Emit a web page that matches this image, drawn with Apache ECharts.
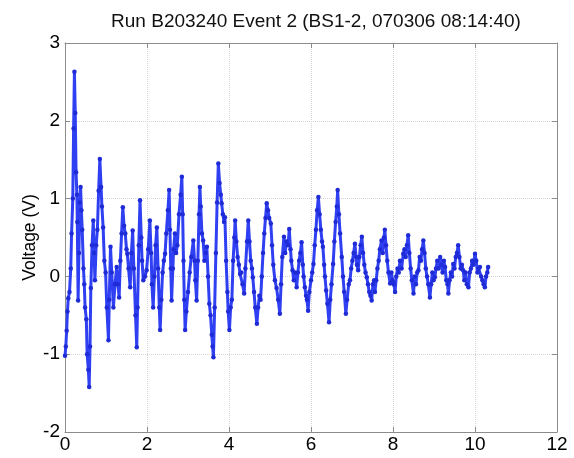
<!DOCTYPE html>
<html>
<head>
<meta charset="utf-8">
<script src="https://cdn.jsdelivr.net/npm/echarts@6/dist/echarts.min.js"></script>
<style>
  html, body { margin: 0; padding: 0; background: #ffffff; }
  #chart { width: 574px; height: 458px; }
</style>
</head>
<body>
<div id="chart"></div>
<script>
// Recorded voltage trace, [time (s), voltage (V)] pairs, one array per second of record
const wave0to1 = [
  [0.00,-1.02],[0.02,-0.90],[0.04,-0.70],[0.06,-0.45],[0.08,-0.28],[0.11,-0.20],[0.14,0.10],[0.16,0.55],
  [0.19,1.00],[0.21,1.90],[0.23,2.63],[0.25,2.10],[0.27,1.34],[0.29,1.05],[0.30,0.70],[0.32,-0.31],
  [0.34,0.30],[0.36,0.95],[0.38,1.15],[0.40,0.85],[0.42,0.60],[0.45,0.10],[0.47,-0.10],[0.49,-0.40],
  [0.52,-0.55],[0.54,-1.00],[0.57,-1.20],[0.59,-1.42],[0.61,-0.90],[0.63,-0.15],[0.66,0.40],[0.69,0.72],
  [0.71,0.30],[0.73,-0.05],[0.76,0.40],[0.79,0.60],[0.82,1.10],[0.85,1.51],[0.88,1.15],[0.90,0.90],
  [0.93,0.63],[0.96,0.20],[0.99,0.05],[1.02,-0.40],[1.06,-0.82]
];
const wave1to2 = [
  [1.08,-0.30],[1.11,0.38],[1.14,0.05],[1.18,-0.40],[1.22,-0.10],[1.26,0.12],[1.29,-0.10],[1.32,-0.27],
  [1.35,0.20],[1.38,0.55],[1.41,0.89],[1.44,0.65],[1.47,0.55],[1.50,0.35],[1.52,0.29],[1.55,0.10],
  [1.59,-0.14],[1.62,0.30],[1.65,0.59],[1.68,0.10],[1.72,-0.50],[1.75,-0.91],[1.77,-0.40],[1.80,0.40],
  [1.83,0.98],[1.86,0.50],[1.88,0.20],[1.91,-0.05],[1.95,0.00],[1.99,0.08],[2.03,0.35],[2.07,0.72]
];
const wave2to3 = [
  [2.10,0.30],[2.12,-0.10],[2.15,-0.40],[2.18,0.00],[2.21,0.40],[2.24,0.63],[2.27,0.10],[2.30,-0.40],
  [2.32,-0.69],[2.35,-0.30],[2.38,0.05],[2.41,0.20],[2.44,0.29],[2.47,0.55],[2.51,0.85],[2.54,1.11],
  [2.56,0.60],[2.58,0.10],[2.60,-0.31],[2.63,0.10],[2.65,0.35],[2.68,0.55],[2.71,0.30],[2.74,0.40],
  [2.78,0.80],[2.82,1.05],[2.85,1.28],[2.87,0.80],[2.89,0.20],[2.91,-0.30],[2.93,-0.69],[2.96,-0.45],
  [3.00,-0.20],[3.04,0.05],[3.08,0.25],[3.13,0.46]
];
const wave3to4 = [
  [3.16,0.20],[3.18,-0.05],[3.21,-0.31],[3.24,0.20],[3.27,0.80],[3.29,1.15],[3.31,0.90],[3.34,0.55],
  [3.37,0.46],[3.40,0.20],[3.43,0.30],[3.46,0.38],[3.49,0.00],[3.52,-0.35],[3.55,-0.50],[3.58,-0.75],
  [3.60,-0.90],[3.62,-1.04],[3.65,-0.40],[3.68,0.30],[3.71,0.95],[3.74,1.45],[3.77,1.20],[3.80,1.05],
  [3.82,0.94],[3.85,0.80],[3.88,0.70],[3.90,0.76],[3.93,0.20],[3.96,-0.20],[3.98,-0.45],[4.01,-0.69]
];
const wave4to5 = [
  [4.04,-0.40],[4.07,-0.30],[4.10,0.20],[4.13,0.50],[4.15,0.72],[4.18,0.45],[4.21,0.25],[4.24,0.15],
  [4.27,0.03],[4.30,0.05],[4.33,-0.10],[4.37,-0.22],[4.40,0.10],[4.44,0.45],[4.47,0.72],[4.50,0.45],
  [4.53,0.20],[4.56,0.10],[4.58,-0.01],[4.61,-0.20],[4.64,-0.40],[4.68,-0.61],[4.71,-0.40],[4.74,-0.25],
  [4.77,-0.30],[4.80,0.00],[4.83,0.30],[4.86,0.55],[4.89,0.75],[4.92,0.94],[4.95,0.85],[4.98,0.75],
  [5.02,0.68]
];
const wave5to6 = [
  [5.05,0.40],[5.08,0.15],[5.12,-0.05],[5.16,-0.15],[5.20,-0.30],[5.24,-0.48],[5.27,-0.10],[5.30,0.25],
  [5.34,0.51],[5.37,0.30],[5.40,0.45],[5.44,0.40],[5.47,0.61],[5.50,0.35],[5.52,0.20],[5.55,0.08],
  [5.58,-0.05],[5.61,0.05],[5.65,-0.14],[5.68,0.05],[5.71,0.20],[5.74,0.30],[5.77,0.44],[5.80,0.15],
  [5.82,0.00],[5.85,-0.14],[5.88,-0.25],[5.90,-0.30],[5.93,-0.44],[5.96,-0.20],[6.00,-0.05],[6.03,0.05],
  [6.06,0.16]
];
const wave6to7 = [
  [6.09,0.40],[6.12,0.60],[6.15,0.85],[6.18,1.02],[6.21,0.80],[6.24,0.60],[6.27,0.45],[6.29,0.38],
  [6.32,0.15],[6.34,0.00],[6.37,-0.18],[6.40,-0.35],[6.44,-0.59],[6.47,-0.30],[6.50,-0.10],[6.54,0.16],
  [6.57,0.45],[6.60,0.70],[6.63,0.90],[6.65,1.11],[6.68,0.80],[6.71,0.55],[6.75,0.25],[6.78,0.00],
  [6.81,-0.20],[6.85,-0.48],[6.88,-0.30],[6.92,-0.10],[6.95,-0.05],[6.98,0.10],[7.01,0.20],[7.04,0.30],
  [7.07,0.42]
];
const wave7to8 = [
  [7.10,0.25],[7.12,0.15],[7.15,0.08],[7.18,0.25],[7.21,0.40],[7.24,0.51],[7.27,0.30],[7.30,0.15],
  [7.33,0.05],[7.36,-0.01],[7.39,-0.10],[7.42,-0.20],[7.45,-0.25],[7.48,-0.31],[7.51,-0.10],[7.54,-0.05],
  [7.56,-0.20],[7.59,-0.05],[7.62,0.10],[7.65,0.20],[7.68,0.35],[7.72,0.46],[7.75,0.30],[7.78,0.50],
  [7.80,0.60],[7.83,0.40],[7.86,0.20],[7.89,0.05],[7.93,-0.09],[7.96,0.05],[7.99,-0.05],[8.02,-0.10],
  [8.05,-0.20]
];
const wave8to9 = [
  [8.08,0.00],[8.11,0.10],[8.14,0.05],[8.17,0.20],[8.21,0.10],[8.25,0.29],[8.28,0.35],[8.31,0.25],
  [8.34,0.40],[8.37,0.53],[8.40,0.30],[8.43,0.10],[8.46,-0.05],[8.50,-0.22],[8.53,0.00],[8.56,-0.10],
  [8.59,0.05],[8.62,0.08],[8.65,0.25],[8.68,0.20],[8.71,0.35],[8.74,0.46],[8.77,0.30],[8.80,0.10],
  [8.83,0.00],[8.86,-0.10],[8.90,-0.27],[8.93,-0.10],[8.96,0.05],[8.99,-0.05],[9.02,-0.01]
];
const wave9toEnd = [
  [9.05,0.10],[9.08,0.20],[9.11,0.10],[9.15,0.25],[9.18,0.15],[9.21,0.05],[9.24,0.20],[9.27,0.12],
  [9.30,-0.05],[9.33,-0.10],[9.35,-0.22],[9.38,-0.05],[9.41,0.05],[9.44,0.00],[9.47,0.16],[9.50,0.10],
  [9.53,0.25],[9.56,0.30],[9.59,0.40],[9.62,0.25],[9.65,0.10],[9.68,0.15],[9.71,0.08],[9.74,-0.05],
  [9.77,0.05],[9.80,-0.10],[9.84,-0.14],[9.87,0.05],[9.90,0.10],[9.93,0.20],[9.96,0.15],[10.00,0.29],
  [10.03,0.20],[10.06,0.05],[10.09,0.10],[10.12,0.12],[10.15,0.00],[10.18,-0.05],[10.21,-0.10],[10.24,-0.14],
  [10.27,0.00],[10.30,0.05],[10.32,0.12]
];

const xTicks = { min: 0, max: 12, step: 2 };
const yTicks = { min: -2, max: 3, step: 1 };
const titleText = 'Run B203240 Event 2 (BS1-2, 070306 08:14:40)';
const yName = 'Voltage (V)';

const trace = [].concat(wave0to1, wave1to2, wave2to3, wave3to4, wave4to5,
                        wave5to6, wave6to7, wave7to8, wave8to9, wave9toEnd);

const FONT = '"Liberation Sans", Arial, Helvetica, sans-serif';
const boxColor = '#8c8c8c';
const gridColor = '#d6d6d6';

function axisBase(range, opts) {
  return Object.assign({
    type: 'value',
    min: range.min,
    max: range.max,
    interval: range.step,
    axisLine: { show: true, onZero: false, lineStyle: { color: boxColor, width: 1 } },
    axisTick: { show: true, inside: true, length: 5, lineStyle: { color: boxColor } },
    axisLabel: { show: false },
    splitLine: { show: false }
  }, opts);
}

const chart = echarts.init(document.getElementById('chart'), null, { renderer: 'canvas' });
chart.setOption({
  animation: false,
  backgroundColor: '#ffffff',
  title: {
    text: titleText,
    left: 311,
    textAlign: 'center',
    top: 7,
    textStyle: { fontFamily: FONT, fontSize: 19, fontWeight: 'normal', color: '#111' }
  },
  grid: { left: 65, right: 17, top: 43, bottom: 26, containLabel: false },
  xAxis: [
    axisBase(xTicks, {
      position: 'bottom',
      axisLabel: { show: true, color: '#000', fontFamily: FONT, fontSize: 19, margin: 3 },
      splitLine: { show: true, lineStyle: { type: 'dotted', color: gridColor, width: 1 } }
    }),
    axisBase(xTicks, { position: 'top' })
  ],
  yAxis: [
    axisBase(yTicks, {
      position: 'left',
      name: yName,
      nameLocation: 'middle',
      nameGap: 26,
      nameMoveOverlap: false,
      nameRotate: 90,
      nameTextStyle: { fontFamily: FONT, fontSize: 17.5, color: '#000' },
      axisLabel: { show: true, color: '#000', fontFamily: FONT, fontSize: 19, margin: 5 },
      splitLine: { show: true, lineStyle: { type: 'dotted', color: gridColor, width: 1 } }
    }),
    axisBase(yTicks, { position: 'right' })
  ],
  series: [{
    type: 'line',
    data: trace,
    xAxisIndex: 0,
    yAxisIndex: 0,
    showSymbol: true,
    symbol: 'circle',
    symbolSize: 4.5,
    itemStyle: { color: '#1f2bd6', borderWidth: 0 },
    lineStyle: { color: '#2f3ff2', width: 3 },
    silent: true
  }]
});
</script>
</body>
</html>
